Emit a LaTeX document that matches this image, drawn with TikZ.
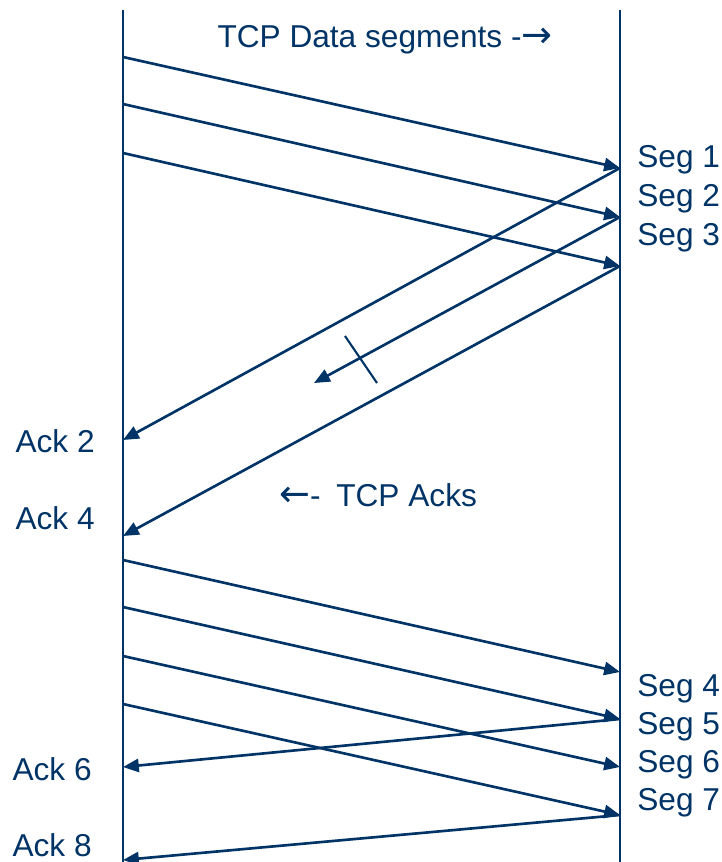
\documentclass[tikz,border=0pt]{standalone}
\usepackage{fontspec}
\setmainfont{Liberation Sans}
\newfontfamily\arrowfont{DejaVu Sans}
\usetikzlibrary{arrows.meta}
\definecolor{navy}{RGB}{0,51,102}
\newcommand{\bigarrow}[1]{{\arrowfont\fontsize{21}{21}\selectfont #1}}
\begin{document}
\begin{tikzpicture}[x=0.02cm,y=-0.02cm,
  lifeline/.style={draw=navy,line width=0.9pt},
  msg/.style={draw=navy,line width=1.5pt,-{Triangle[length=9pt,width=7.5pt]}},
  lbl/.style={text=navy,font=\fontsize{18}{20}\selectfont,inner sep=0pt},
  lossmark/.style={draw=navy,line width=1.2pt}]
\useasboundingbox (0,0) rectangle (722,862);
% hosts
\coordinate (Ltop) at (123,10);
\coordinate (Lbot) at (123,862);
\coordinate (Rtop) at (620,10);
\coordinate (Rbot) at (620,862);
\draw[lifeline] (Ltop) -- (Lbot);
\draw[lifeline] (Rtop) -- (Rbot);
% send / receive points
\coordinate (s1) at (123,57);   \coordinate (r1) at (620,168);
\coordinate (s2) at (123,104);  \coordinate (r2) at (620,217);
\coordinate (s3) at (123,153);  \coordinate (r3) at (620,266);
\coordinate (a2) at (123,440);  \coordinate (lost) at (314,383);
\coordinate (a4) at (123,536);
\coordinate (s4) at (123,560);  \coordinate (r4) at (620,672);
\coordinate (s5) at (123,607);  \coordinate (r5) at (620,719);
\coordinate (s6) at (123,656);  \coordinate (r6) at (620,767);
\coordinate (s7) at (123,704);  \coordinate (r7) at (620,815);
\coordinate (a6) at (123,767);
\coordinate (a8) at (123,860);
\coordinate (x1) at (345,336);
\coordinate (x2) at (377,383);
% first window
\draw[msg] (s1) -- (r1);
\draw[msg] (s2) -- (r2);
\draw[msg] (s3) -- (r3);
\draw[msg] (r1) -- (a2);
\draw[msg] (r2) -- (lost);
\draw[lossmark] (x1) -- (x2);
\draw[msg] (r3) -- (a4);
% second window
\draw[msg] (s4) -- (r4);
\draw[msg] (s5) -- (r5);
\draw[msg] (s6) -- (r6);
\draw[msg] (s7) -- (r7);
\draw[msg] (r5) -- (a6);
\draw[msg] (r7) -- (a8);
% labels
\node[lbl] (tdata) at (385,40) {TCP Data segments -\bigarrow{→}};
\node[lbl] (tacks) at (378,495) {\bigarrow{←}-\enspace TCP Acks};
\node[lbl,anchor=west] (g1) at (637,160) {Seg 1};
\node[lbl,anchor=west] (g2) at (637,199) {Seg 2};
\node[lbl,anchor=west] (g3) at (637,238) {Seg 3};
\node[lbl,anchor=west] (g4) at (637,689) {Seg 4};
\node[lbl,anchor=west] (g5) at (637,727) {Seg 5};
\node[lbl,anchor=west] (g6) at (637,765) {Seg 6};
\node[lbl,anchor=west] (g7) at (637,803) {Seg 7};
\node[lbl,anchor=east] (k2) at (95,441) {Ack 2};
\node[lbl,anchor=east] (k4) at (95,518) {Ack 4};
\node[lbl,anchor=east] (k6) at (92,769) {Ack 6};
\node[lbl,anchor=east] (k8) at (92,845) {Ack 8};
\end{tikzpicture}
\end{document}
